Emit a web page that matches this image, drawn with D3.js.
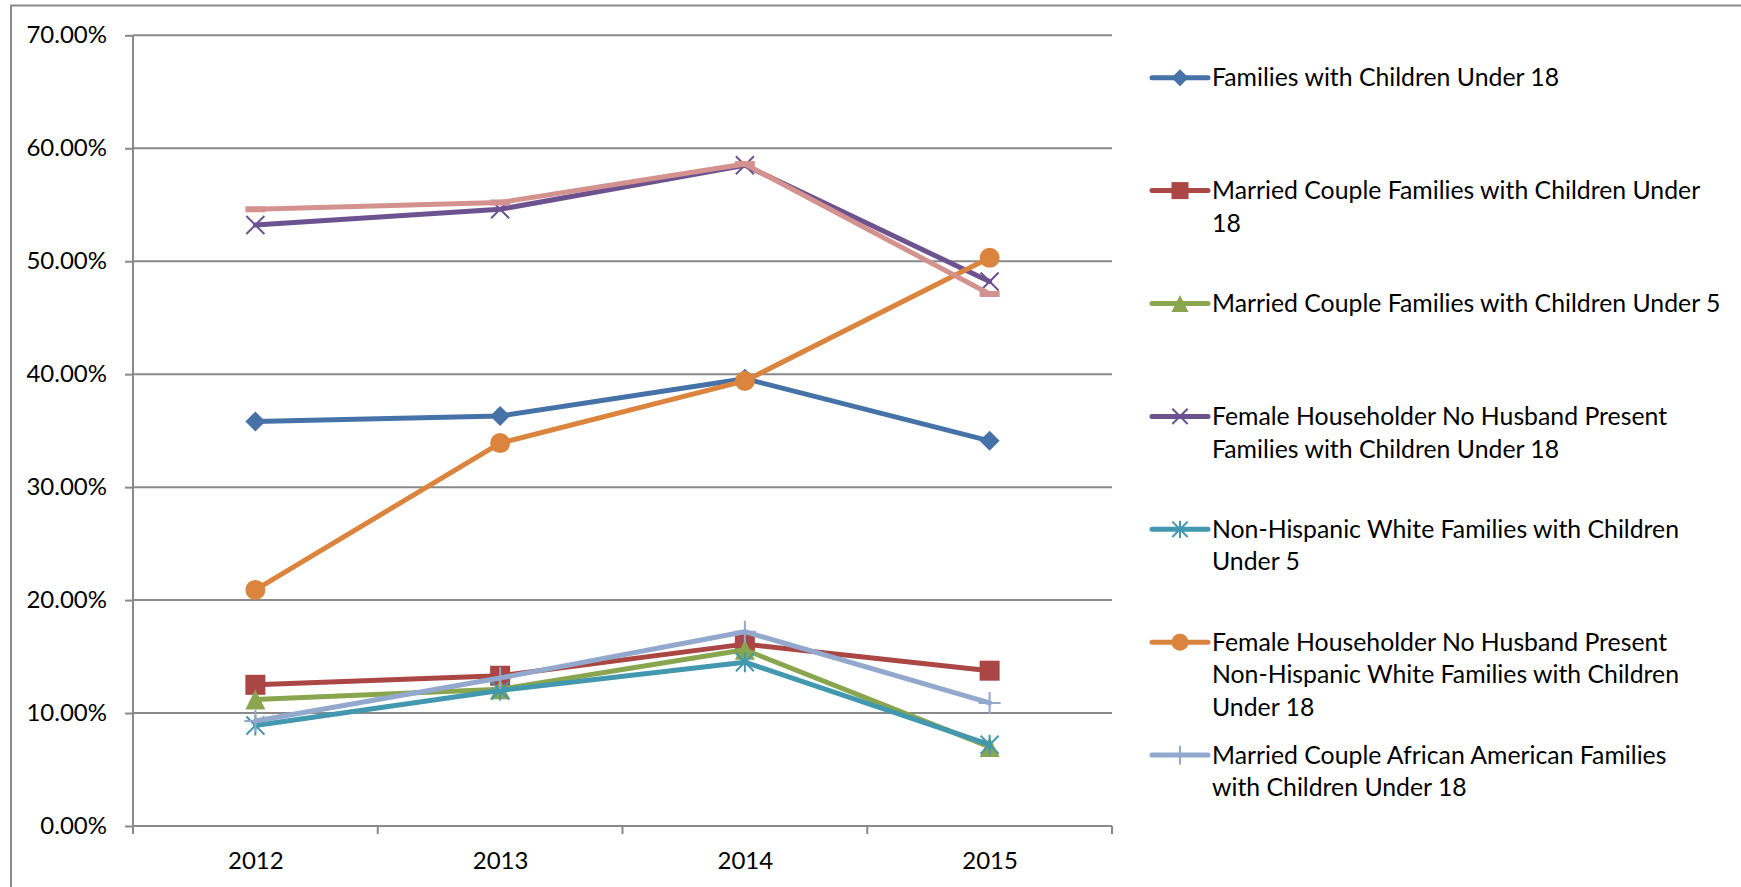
<!DOCTYPE html>
<html>
<head>
  <title>Families below poverty level, 2012-2015</title>
  <script src="https://d3js.org/d3.v7.min.js"></script>
  <style>
    body {
      margin: 0;
      background: #fff;
    }
    svg text {
      font-family: Lato, "Open Sans", sans-serif;
      fill: #000;
    }
  </style>
</head>
<body>
  <svg id="chart" width="1741" height="887"></svg>

  <script type="text/javascript">
    /* Data (percent) */
    var years = ["2012", "2013", "2014", "2015"];

    var familiesU18        = [35.8, 36.3, 39.6, 34.1];
    var marriedU18         = [12.5, 13.3, 16.1, 13.75];
    var marriedU5          = [11.2, 12.1, 15.6, 7.0];
    var femaleU18          = [53.2, 54.6, 58.5, 48.2];
    var whiteU5            = [8.9, 12.0, 14.5, 7.2];
    var femaleWhiteU18     = [20.9, 33.9, 39.4, 50.3];
    var marriedAfAmU18     = [9.3, 13.1, 17.2, 10.9];
    var unlabeledSeries    = [54.6, 55.2, 58.6, 47.1];

    var yTicks = [0, 0.1, 0.2, 0.3, 0.4, 0.5, 0.6, 0.7];

    var seriesNames = [
      ["Families with Children Under 18"],
      ["Married Couple Families with Children Under", "18"],
      ["Married Couple Families with Children Under 5"],
      ["Female Householder No Husband Present", "Families with Children Under 18"],
      ["Non-Hispanic White Families with Children", "Under 5"],
      ["Female Householder No Husband Present", "Non-Hispanic White Families with Children", "Under 18"],
      ["Married Couple African American Families", "with Children Under 18"]
    ];

    var series = [
      { values: familiesU18,     color: "#4572a7", marker: "diamond",  legend: 0 },
      { values: marriedU18,      color: "#aa4643", marker: "square",   legend: 1 },
      { values: marriedU5,       color: "#89a54e", marker: "triangle", legend: 2 },
      { values: femaleU18,       color: "#6d5290", marker: "x",        legend: 3 },
      { values: whiteU5,         color: "#4198af", marker: "star",     legend: 4 },
      { values: femaleWhiteU18,  color: "#db843d", marker: "circle",   legend: 5 },
      { values: marriedAfAmU18,  color: "#92a8cd", marker: "plus",     legend: 6 },
      { values: unlabeledSeries, color: "#d4928f", marker: "dash",     legend: null }
    ];

    var svg = d3.select("#chart");
    var gridColor = "#898989";

    /* Outer chart border (runs off the right and bottom edges) */
    svg.append("rect")
       .attr("x", 11)
       .attr("y", 5.5)
       .attr("width", 1800)
       .attr("height", 1000)
       .attr("fill", "none")
       .attr("stroke", gridColor)
       .attr("stroke-width", 2);

    var plotLeft = 133, plotRight = 1112, plotTop = 35.3, plotBottom = 826;

    var x = d3.scalePoint()
              .domain(years)
              .range([plotLeft, plotRight])
              .padding(0.5);

    var y = d3.scaleLinear()
              .domain([0, 0.7])
              .range([plotBottom, plotTop]);

    /* Horizontal gridlines */
    svg.append("g")
       .selectAll("line")
       .data(yTicks)
       .enter().append("line")
       .attr("x1", plotLeft)
       .attr("x2", plotRight)
       .attr("y1", function(d) { return y(d); })
       .attr("y2", function(d) { return y(d); })
       .attr("stroke", gridColor)
       .attr("stroke-width", 2);

    /* Y axis */
    var yAxis = svg.append("g")
       .attr("transform", "translate(" + plotLeft + ",0)")
       .call(d3.axisLeft(y)
               .tickValues(yTicks)
               .tickFormat(d3.format(".2%"))
               .tickSize(8)
               .tickPadding(18));
    yAxis.select(".domain").remove();
    yAxis.selectAll(".tick line").attr("stroke", gridColor).attr("stroke-width", 2);
    yAxis.selectAll("text").style("font-size", "24px").attr("fill", "#000");

    svg.append("line")
       .attr("x1", plotLeft).attr("x2", plotLeft)
       .attr("y1", plotTop).attr("y2", plotBottom + 8)
       .attr("stroke", gridColor)
       .attr("stroke-width", 2);

    /* X axis: labels at category centres, ticks at category boundaries */
    var xAxis = svg.append("g")
       .attr("transform", "translate(0," + plotBottom + ")")
       .call(d3.axisBottom(x).tickSize(0).tickPadding(26));
    xAxis.select(".domain").remove();
    xAxis.selectAll("text").style("font-size", "24px").attr("fill", "#000");

    var half = x.step() / 2;
    var bounds = years.map(function(d) { return x(d) - half; })
                      .concat([x(years[years.length - 1]) + half]);

    svg.append("g")
       .selectAll("line")
       .data(bounds)
       .enter().append("line")
       .attr("x1", function(d) { return d; })
       .attr("x2", function(d) { return d; })
       .attr("y1", plotBottom)
       .attr("y2", plotBottom + 8)
       .attr("stroke", gridColor)
       .attr("stroke-width", 2);

    /* Marker drawing */
    function drawMarker(g, type, color, cx, cy, k) {
      var s = 10 * k;
      if (type == "diamond") {
        g.append("path")
         .attr("d", "M" + cx + "," + (cy - s) + "L" + (cx + s) + "," + cy +
                    "L" + cx + "," + (cy + s) + "L" + (cx - s) + "," + cy + "Z")
         .attr("fill", color);
      } else if (type == "square") {
        g.append("rect")
         .attr("x", cx - s).attr("y", cy - s)
         .attr("width", 2 * s).attr("height", 2 * s)
         .attr("fill", color);
      } else if (type == "triangle") {
        g.append("path")
         .attr("d", "M" + cx + "," + (cy - s) + "L" + (cx + s) + "," + (cy + s) +
                    "L" + (cx - s) + "," + (cy + s) + "Z")
         .attr("fill", color);
      } else if (type == "circle") {
        g.append("circle")
         .attr("cx", cx).attr("cy", cy).attr("r", s)
         .attr("fill", color);
      } else if (type == "dash") {
        g.append("rect")
         .attr("x", cx - s).attr("y", cy - 3)
         .attr("width", 2 * s).attr("height", 6)
         .attr("fill", color);
      } else {
        var d = "";
        var a = 9 * k;
        if (type == "x" || type == "star") {
          d += "M" + (cx - a) + "," + (cy - a) + "L" + (cx + a) + "," + (cy + a);
          d += "M" + (cx - a) + "," + (cy + a) + "L" + (cx + a) + "," + (cy - a);
        }
        if (type == "star") {
          d += "M" + cx + "," + (cy - a - 1) + "L" + cx + "," + (cy + a + 1);
        }
        if (type == "plus") {
          a = 11 * k;
          d += "M" + (cx - a) + "," + cy + "L" + (cx + a) + "," + cy;
          d += "M" + cx + "," + (cy - a) + "L" + cx + "," + (cy + a);
        }
        g.append("path")
         .attr("d", d)
         .attr("fill", "none")
         .attr("stroke", color)
         .attr("stroke-width", 2);
      }
    }

    var line = d3.line()
                 .x(function(d, i) { return x(years[i]); })
                 .y(function(d) { return y(d / 100); });

    /* Each series: line then markers, in series order */
    series.forEach(function(s) {
      var g = svg.append("g").attr("class", "series");
      g.append("path")
       .datum(s.values)
       .attr("d", line)
       .attr("fill", "none")
       .attr("stroke", s.color)
       .attr("stroke-width", 5)
       .attr("stroke-linejoin", "round")
       .attr("stroke-linecap", "round");
      s.values.forEach(function(v, i) {
        drawMarker(g, s.marker, s.color, x(years[i]), y(v / 100), 1);
      });
    });

    /* Legend */
    var legendX = 1152, legendTop = 77.7, legendStep = 112.9, lineHeight = 32.5;

    var legend = svg.append("g").attr("class", "legend");

    series.filter(function(s) { return s.legend !== null; })
          .forEach(function(s) {
      var cy = legendTop + s.legend * legendStep;
      legend.append("line")
            .attr("x1", legendX).attr("x2", legendX + 56)
            .attr("y1", cy).attr("y2", cy)
            .attr("stroke", s.color)
            .attr("stroke-width", 5)
            .attr("stroke-linecap", "round");
      drawMarker(legend, s.marker, s.color, legendX + 28, cy, 0.85);

      var t = legend.append("text")
                    .attr("x", legendX + 60)
                    .attr("y", cy)
                    .attr("dy", "0.35em")
                    .style("font-size", "24.8px");
      seriesNames[s.legend].forEach(function(txt, j) {
        t.append("tspan")
         .attr("x", legendX + 60)
         .attr("y", cy + j * lineHeight)
         .attr("dy", "0.35em")
         .text(txt);
      });
    });
  </script>
</body>
</html>
